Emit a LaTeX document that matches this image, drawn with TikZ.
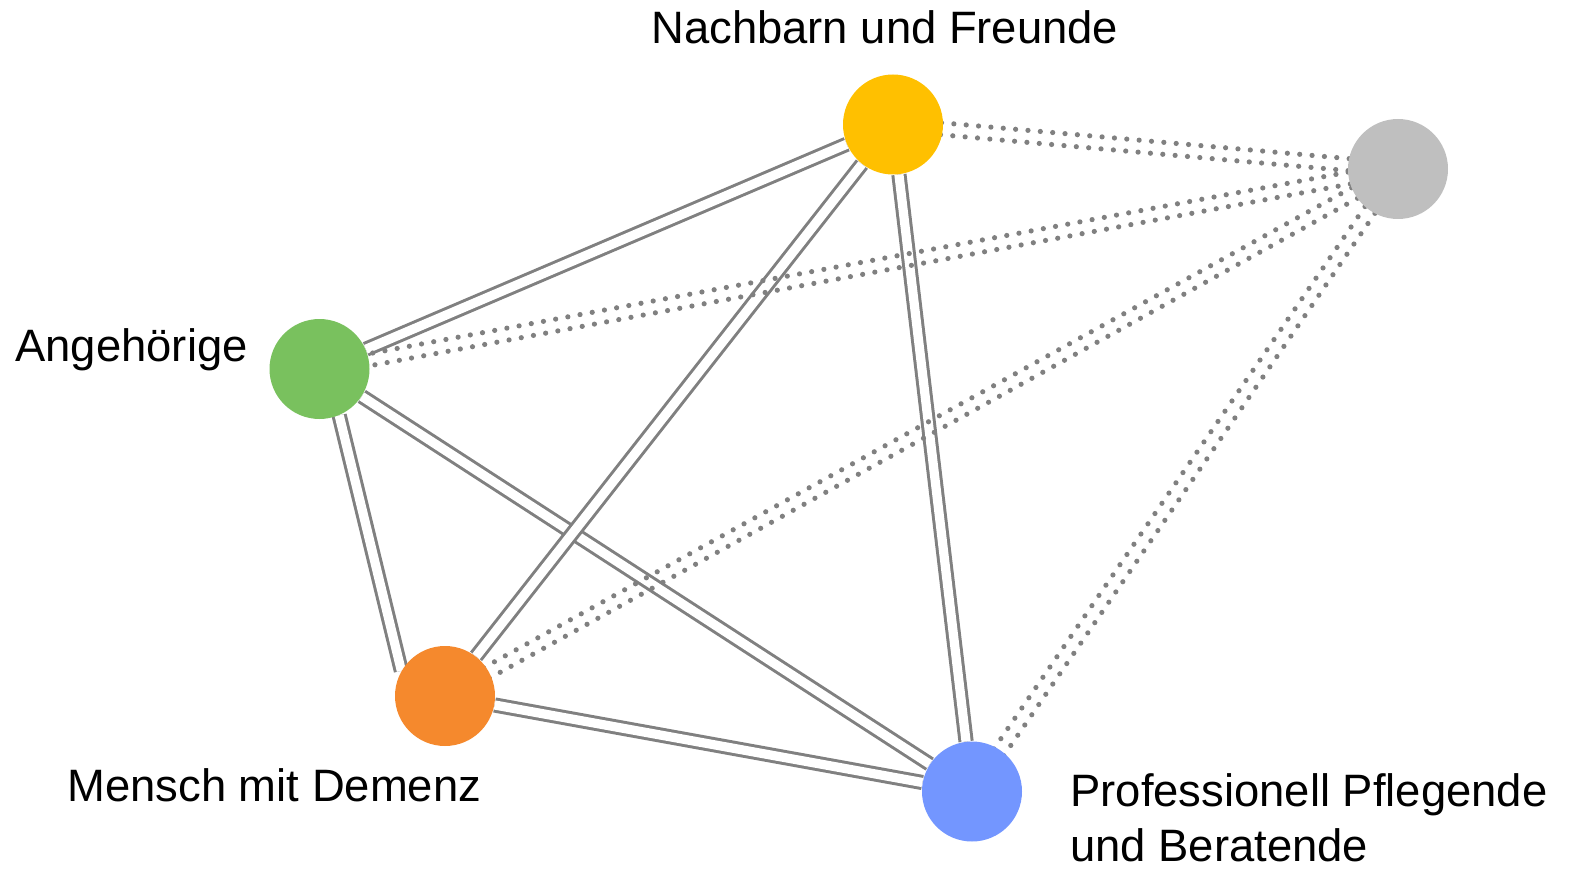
\documentclass[tikz,border=0pt]{standalone}
\usepackage{fontspec}
\setmainfont{Liberation Sans}
\usepackage{xcolor}
\usetikzlibrary{calc,backgrounds}

\definecolor{kgelb}{HTML}{FFC000}
\definecolor{kgrau}{HTML}{BFBFBF}
\definecolor{kgruen}{HTML}{79C15E}
\definecolor{korange}{HTML}{F5892D}
\definecolor{kblau}{HTML}{7396FF}
\definecolor{klinie}{HTML}{808080}

\newcommand\punktpaar[2]{%
  \draw[punkt] ($(#1)!3pt!90:(#2)$) -- ($(#2)!3pt!-90:(#1)$);
  \draw[punkt] ($(#1)!3pt!-90:(#2)$) -- ($(#2)!3pt!90:(#1)$);}

\begin{document}
\begin{tikzpicture}[
  x=0.5pt, y=-0.5pt,
  person/.style={circle, minimum size=50pt, inner sep=0pt},
  beschr/.style={inner sep=0pt, anchor=base west, font=\fontsize{22.7}{27.5}\selectfont, align=left},
  band/.style={draw=klinie, line width=1.5pt, double=white, double distance=4.6pt},
  punkt/.style={draw=klinie, line width=2.6pt, line cap=round, dash pattern=on 0pt off 6.2pt}
]
\useasboundingbox (0,0) rectangle (1571,872);
\node[person, fill=kgelb] (nachbarn) at (893,124.5) {};
\node[person, fill=kgrau] (grau) at (1398,169) {};
\node[person, fill=kgruen] (angeh) at (319.5,369) {};
\node[person, fill=korange] (mensch) at (445,696) {};
\node[person, fill=kblau] (profi) at (972,791.5) {};

\node[beschr] (tnachbarn) at (651,43.3) {Nachbarn und Freunde};
\node[beschr] (tangeh) at (15,361.7) {Angehörige};
\node[beschr] (tmensch) at (67,801.7) {Mensch mit Demenz};
\node[beschr] (tprofi) at (1070,861.7) {Professionell Pflegende\\und Beratende};

\begin{pgfonlayer}{background}
\draw[band] (angeh) -- (nachbarn);
\draw[band] (angeh.-67) -- (mensch.150);
\draw[band] (angeh) -- (profi);
\draw[band] (nachbarn) -- (mensch);
\draw[band] (nachbarn) -- (profi);
\draw[band] (mensch) -- (profi);
\punktpaar{grau}{nachbarn}
\punktpaar{grau}{angeh}
\punktpaar{grau}{mensch}
\punktpaar{grau}{profi}
\end{pgfonlayer}
\end{tikzpicture}
\end{document}
